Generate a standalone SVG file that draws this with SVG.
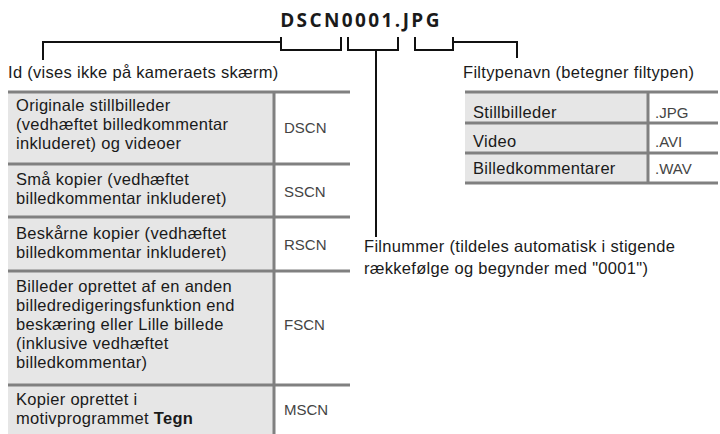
<svg xmlns="http://www.w3.org/2000/svg" width="720" height="434" viewBox="0 0 720 434">
<style>
  text { font-family: "Liberation Sans", Arial, sans-serif; font-size: 16.5px; letter-spacing: 0.3px; fill: #1a1a1a; }
  .title { font-family: "Open Sans", "Noto Sans", sans-serif; font-size: 19px; font-weight: bold; letter-spacing: 2.4px; }
  .code { fill: #444; font-size: 15px; letter-spacing: 0; }
  .conn { fill: none; stroke: #111; stroke-width: 2; }
  .cellL { fill: #e6e6e6; }
  .cellR { fill: #ffffff; }
  .grid { stroke: #808080; stroke-width: 3; fill: none; }
</style>
<rect width="720" height="434" fill="#ffffff"/>

<g id="title"><text class="title" x="361" y="27" text-anchor="middle">DSCN0001.JPG</text></g>

<g id="connectors">
  <path class="conn" d="M43,60 V42 H281"/>
  <path class="conn" d="M281,37 V50 H341 V37"/>
  <path class="conn" d="M348,37 V50 H398 V37"/>
  <path class="conn" d="M376,50 V237"/>
  <path class="conn" d="M415,37 V50 H453 V37"/>
  <path class="conn" d="M453,42 H517 V58"/>
</g>

<g id="id-label"><text x="8" y="78">Id (vises ikke på kameraets skærm)</text></g>
<g id="filtype-label"><text x="463" y="78">Filtypenavn (betegner filtypen)</text></g>
<g id="filnummer-label">
  <text x="364" y="252">Filnummer (tildeles automatisk i stigende</text>
  <text x="364" y="274">rækkefølge og begynder med "0001")</text>
</g>

<g id="id-table">
  <rect class="cellL" x="8" y="92" width="266" height="342"/>
  <rect class="cellR" x="274" y="92" width="76" height="342"/>
  <line class="grid" x1="8" y1="92" x2="350" y2="92"/>
  <line class="grid" x1="8" y1="164" x2="350" y2="164"/>
  <line class="grid" x1="8" y1="217" x2="350" y2="217"/>
  <line class="grid" x1="8" y1="271" x2="350" y2="271"/>
  <line class="grid" x1="8" y1="385" x2="350" y2="385"/>
  <line class="grid" x1="274" y1="92" x2="274" y2="434"/>
  <g id="row-dscn">
    <text x="16" y="111">Originale stillbilleder</text>
    <text x="16" y="130">(vedhæftet billedkommentar</text>
    <text x="16" y="149">inkluderet) og videoer</text>
    <text class="code" x="284" y="133">DSCN</text>
  </g>
  <g id="row-sscn">
    <text x="16" y="185">Små kopier (vedhæftet</text>
    <text x="16" y="204">billedkommentar inkluderet)</text>
    <text class="code" x="284" y="197">SSCN</text>
  </g>
  <g id="row-rscn">
    <text x="16" y="239">Beskårne kopier (vedhæftet</text>
    <text x="16" y="258">billedkommentar inkluderet)</text>
    <text class="code" x="284" y="250">RSCN</text>
  </g>
  <g id="row-fscn">
    <text x="16" y="292">Billeder oprettet af en anden</text>
    <text x="16" y="311">billedredigeringsfunktion end</text>
    <text x="16" y="330">beskæring eller Lille billede</text>
    <text x="16" y="349">(inklusive vedhæftet</text>
    <text x="16" y="368">billedkommentar)</text>
    <text class="code" x="284" y="330">FSCN</text>
  </g>
  <g id="row-mscn">
    <text x="16" y="405">Kopier oprettet i</text>
    <text x="16" y="424">motivprogrammet <tspan font-weight="bold">Tegn</tspan></text>
    <text class="code" x="284" y="415">MSCN</text>
  </g>
</g>

<g id="type-table">
  <rect class="cellL" x="465" y="92" width="183" height="91"/>
  <rect class="cellR" x="648" y="92" width="70" height="91"/>
  <line class="grid" x1="465" y1="92" x2="718" y2="92"/>
  <line class="grid" x1="465" y1="123" x2="718" y2="123"/>
  <line class="grid" x1="465" y1="153" x2="718" y2="153"/>
  <line class="grid" x1="465" y1="183" x2="718" y2="183"/>
  <line class="grid" x1="648" y1="92" x2="648" y2="183"/>
  <g id="row-jpg">
    <text x="473" y="118">Stillbilleder</text>
    <text class="code" x="655" y="118">.JPG</text>
  </g>
  <g id="row-avi">
    <text x="473" y="147">Video</text>
    <text class="code" x="655" y="147">.AVI</text>
  </g>
  <g id="row-wav">
    <text x="473" y="174">Billedkommentarer</text>
    <text class="code" x="655" y="174">.WAV</text>
  </g>
</g>
</svg>
